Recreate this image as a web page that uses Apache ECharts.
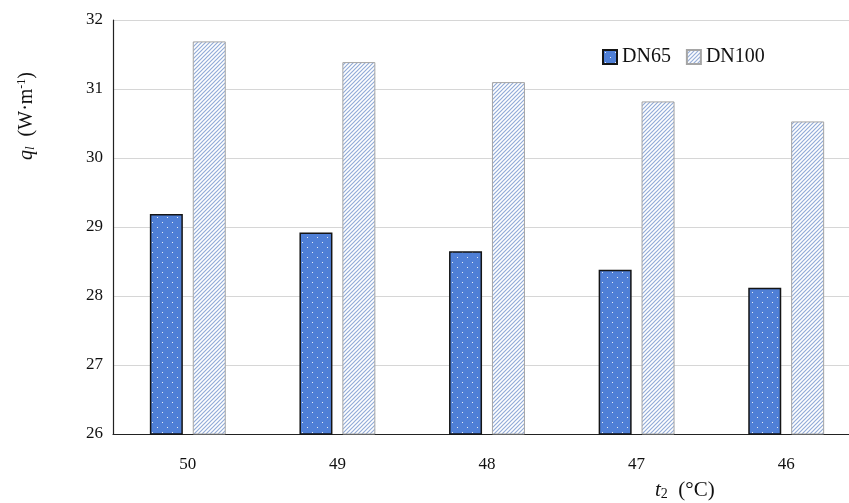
<!DOCTYPE html>
<html><head><meta charset="utf-8">
<script src="https://cdn.jsdelivr.net/npm/echarts@6/dist/echarts.min.js"></script>
<style>html,body{margin:0;padding:0;background:#fff;overflow:hidden}#c{width:861px;height:503px}</style>
</head><body><div id="c"></div>
<script>
const categories = ['50', '49', '48', '47', '46'];
const dn65 = [29.19, 28.92, 28.65, 28.38, 28.12];
const dn100 = [31.69, 31.39, 31.10, 30.82, 30.53];
const yTicks = [26, 27, 28, 29, 30, 31, 32];

function dotPattern() {
  const c = document.createElement('canvas');
  c.width = 10; c.height = 10;
  const g = c.getContext('2d');
  g.fillStyle = '#4f7fd6'; g.fillRect(0, 0, 10, 10);
  g.fillStyle = 'rgba(255,255,255,0.85)';
  g.fillRect(2, 2, 1, 1);
  g.fillRect(7, 7, 1, 1);
  return c;
}
function hatchPattern() {
  const c = document.createElement('canvas');
  const s = 4;
  c.width = s; c.height = s;
  const g = c.getContext('2d');
  g.fillStyle = '#ffffff'; g.fillRect(0, 0, s, s);
  g.strokeStyle = '#93acd8'; g.lineWidth = 1.2;
  g.beginPath();
  g.moveTo(0, s); g.lineTo(s, 0);
  g.moveTo(-1, 1); g.lineTo(1, -1);
  g.moveTo(s - 1, s + 1); g.lineTo(s + 1, s - 1);
  g.stroke();
  return c;
}
const font = 'Liberation Serif';
const chart = echarts.init(document.getElementById('c'), null, {renderer: 'canvas'});
chart.setOption({
  animation: false,
  textStyle: {fontFamily: font},
  grid: {left: 113, right: 0, top: 20, bottom: 69},
  legend: {
    left: 597, top: 42, itemWidth: 14, itemHeight: 14, itemGap: 15, icon: 'rect',
    textStyle: {fontFamily: font, fontSize: 20, color: '#111'},
    data: ['DN65', 'DN100']
  },
  xAxis: {
    type: 'category', data: categories,
    axisLine: {lineStyle: {color: '#222', width: 1.2}},
    axisTick: {show: false},
    axisLabel: {fontFamily: font, fontSize: 17, color: '#111', margin: 22}
  },
  yAxis: {
    type: 'value', min: yTicks[0], max: yTicks[yTicks.length - 1], interval: 1,
    axisLine: {show: true, lineStyle: {color: '#222', width: 1.2}},
    axisTick: {show: false},
    splitLine: {lineStyle: {color: '#d6d6d6', width: 1}},
    axisLabel: {fontFamily: font, fontSize: 17, color: '#111', margin: 10}
  },
  series: [
    {name: 'DN65', type: 'bar', data: dn65, barWidth: 33, barGap: '30%',
     itemStyle: {color: {image: dotPattern(), repeat: 'repeat'}, borderColor: '#151515', borderWidth: 1.5}},
    {name: 'DN100', type: 'bar', data: dn100, barWidth: 33,
     itemStyle: {color: {image: hatchPattern(), repeat: 'repeat'}, borderColor: '#a5a5a5', borderWidth: 1}}
  ],
  graphic: [
    {type: 'text', left: 16, top: 72, rotation: Math.PI / 2, originX: 0, originY: 0,
     style: {
       text: '{q|q}{s|l}{n|  (W·m}{sup|-1}{n|)}',
       rich: {
         q: {fontFamily: font, fontStyle: 'italic', fontSize: 20, fill: '#111'},
         s: {fontFamily: font, fontStyle: 'italic', fontSize: 13, fill: '#111', padding: [8, 0, 0, 0]},
         n: {fontFamily: font, fontSize: 20, fill: '#111'},
         sup: {fontFamily: font, fontSize: 12, fill: '#111', padding: [0, 0, 10, 0]}
       }
     }},
    {type: 'text', left: 655, top: 480,
     style: {
       text: '{t|t}{s|2}{n|  (°C)}',
       rich: {
         t: {fontFamily: font, fontStyle: 'italic', fontSize: 21, fill: '#111'},
         s: {fontFamily: font, fontSize: 14, fill: '#111', padding: [8, 0, 0, 0]},
         n: {fontFamily: font, fontSize: 21, fill: '#111'}
       }
     }}
  ]
});
</script></body></html>
